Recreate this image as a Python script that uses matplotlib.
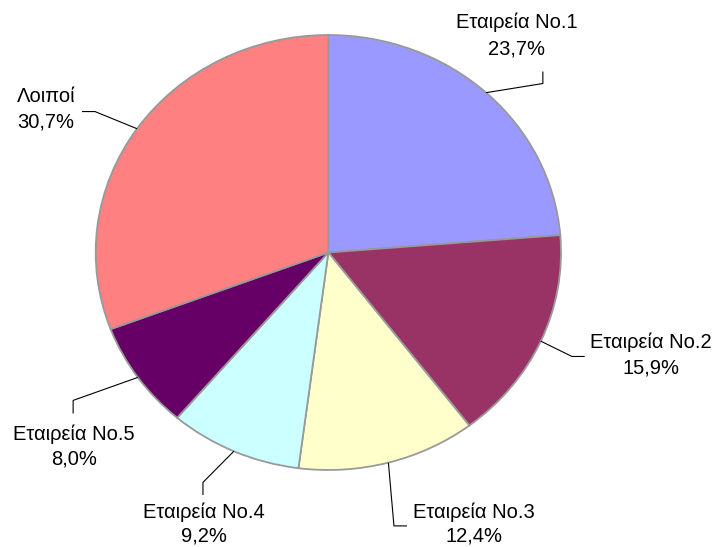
import numpy as np
import matplotlib.pyplot as plt

plt.rcParams['font.family'] = ['Liberation Sans', 'DejaVu Sans']

# market share per company
names = ['Εταιρεία No.1', 'Εταιρεία No.2', 'Εταιρεία No.3',
         'Εταιρεία No.4', 'Εταιρεία No.5', 'Λοιποί']
shares = [23.7, 15.9, 12.4, 9.2, 8.0, 30.7]
colors = ['#9999FF', '#993366', '#FFFFCC', '#CCFFFF', '#660066', '#FF8080']

# label placement (data units, pie radius = 1): text centre x, baselines of the two lines
lab_x = [0.810, 1.386, 0.626, -0.535, -1.093, -1.213]
lab_y1 = [1.030, -0.441, -1.219, -1.219, -0.860, 0.690]
lab_y2 = [0.910, -0.556, -1.329, -1.329, -0.975, 0.575]
# leader lines: elbow point, then end point near the label
elbow = [(0.922, 0.777), (1.047, -0.478), (0.282, -1.257),
         (-0.539, -1.057), (-1.097, -0.680), (-1.003, 0.648)]
tail = [(0.922, 0.832), (1.102, -0.478), (0.338, -1.257),
        (-0.539, -1.115), (-1.097, -0.740), (-1.059, 0.648)]

fig = plt.figure(figsize=(7.16, 5.47), dpi=100)
ax = fig.add_axes([95.7 / 716, 77 / 547, 465.3 / 716, 435 / 547])

wedges, _ = ax.pie(shares, colors=colors, startangle=90, counterclock=False,
                   wedgeprops=dict(edgecolor='#999999', linewidth=1.3))
ax.set_aspect('auto')
ax.set_xlim(-1, 1)
ax.set_ylim(-1, 1)
ax.axis('off')

for i, w in enumerate(wedges):
    mid = np.deg2rad((w.theta1 + w.theta2) / 2)
    x0, y0 = np.cos(mid), np.sin(mid)
    ax.plot([x0, elbow[i][0], tail[i][0]], [y0, elbow[i][1], tail[i][1]],
            color='black', lw=0.8, clip_on=False, solid_capstyle='butt')
    pct = f'{shares[i]:.1f}%'.replace('.', ',')
    ax.text(lab_x[i], lab_y1[i], names[i], ha='center', va='baseline',
            fontsize=14.5, clip_on=False)
    ax.text(lab_x[i], lab_y2[i], pct, ha='center', va='baseline',
            fontsize=14.5, clip_on=False)

fig.savefig('out.png', dpi=100)
